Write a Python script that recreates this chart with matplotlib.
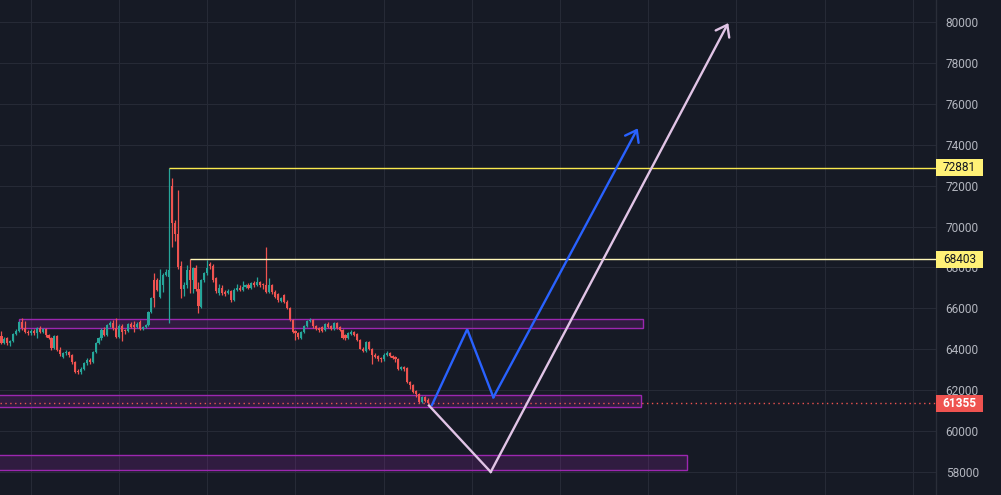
import matplotlib
matplotlib.use("Agg")
import matplotlib.pyplot as plt
from matplotlib.patches import Rectangle
import matplotlib.transforms as mtransforms

# ---------------- data ----------------
opens = [64650, 64300, 64550, 64300, 64400, 64750, 64900, 65350, 65050, 64850,
         64780, 64900, 64780, 65050, 64850, 64980, 64700, 64550, 64060, 64650,
         63960, 63620, 63800, 63860, 63700, 63380, 62950, 62880, 63050, 63330,
         63470, 63400, 63860, 64300, 64550, 64950, 64700, 65180, 65300, 65050,
         64600, 65150, 64950, 64900, 65250, 65200, 65100, 65350, 65000, 65100,
         65200, 65820, 67380, 67380, 66550, 67150, 67650, 67530, 71980, 70170,
         69630, 68050, 66950, 67150, 67870, 67380, 67970, 66950, 66060, 67380,
         67730, 68170, 68070, 67480, 66750, 67000, 66800, 66750, 66850, 66400,
         66900, 67000, 66900, 67050, 67150, 67000, 67250, 67150, 67280, 67200,
         67150, 66800, 67150, 66800, 66700, 66350, 66650, 66300, 66000, 65450,
         64900, 64800, 64550, 64850, 65150, 65380, 65450, 65150, 65050, 65100,
         64950, 65250, 65150, 65000, 65300, 65100, 64950, 64700, 64550, 64750,
         64850, 64750, 64450, 64000, 63900, 64350, 64000, 63720, 63650, 63560,
         63500, 63720, 63800, 63650, 63600, 63500, 63050, 63150, 63100, 62400,
         62250, 61950, 61800, 61400, 61650, 61500]
closes = [64300, 64500, 64300, 64400, 64750, 64900, 65350, 65050, 64850, 64780,
          64900, 64780, 65050, 64850, 64980, 64700, 64550, 64060, 64650, 63960,
          63760, 63800, 63860, 63700, 63380, 62900, 62880, 63050, 63330, 63470,
          63400, 63860, 64300, 64550, 64950, 64700, 65180, 65300, 65050, 64600,
          65150, 64850, 64900, 65250, 65100, 65100, 65250, 65000, 65100, 65200,
          65800, 66500, 66500, 66900, 67380, 67650, 67800, 67870, 70170, 69630,
          68000, 66950, 67150, 67870, 67380, 67970, 66950, 66110, 67380, 67730,
          67970, 68070, 67380, 66850, 67000, 66750, 66700, 66850, 66400, 66900,
          67000, 66900, 67050, 67150, 67000, 67250, 67150, 67280, 67150, 67150,
          66800, 67150, 66800, 66550, 66400, 66500, 66300, 66000, 65450, 64850,
          64800, 64600, 64850, 65150, 65400, 65450, 65150, 65000, 64950, 64900,
          65250, 65100, 65000, 65300, 65050, 64950, 64550, 64550, 64800, 64850,
          64700, 64450, 64000, 63900, 64350, 64000, 63720, 63600, 63520, 63500,
          63720, 63800, 63650, 63550, 63500, 63050, 63150, 63050, 62400, 62250,
          61900, 61800, 61400, 61650, 61450, 61355]
highs = [64890, 64600, 64620, 64450, 64800, 65000, 65400, 65550, 65380, 64950,
         65000, 64980, 65100, 65150, 65050, 65050, 64750, 64620, 64700, 64700,
         64100, 63860, 63950, 63900, 63760, 63450, 63050, 63150, 63380, 63550,
         63550, 63900, 64350, 64600, 65050, 65100, 65250, 65400, 65450, 65550,
         65250, 65250, 65000, 65300, 65320, 65400, 65350, 65450, 65150, 65250,
         65850, 66550, 67720, 67500, 67920, 67750, 67900, 72881, 72370, 70300,
         71780, 68300, 67300, 68100, 68403, 68000, 68100, 67300, 67450, 67800,
         68360, 68250, 68150, 67550, 67200, 67150, 66900, 66950, 66900, 67000,
         67200, 67150, 67350, 67200, 67250, 67300, 67350, 67550, 67350, 67250,
         69000, 67500, 67200, 66900, 66750, 66550, 66700, 66400, 66050, 65500,
         64950, 64850, 64900, 65200, 65450, 65550, 65500, 65200, 65100, 65150,
         65300, 65350, 65200, 65350, 65350, 65150, 65000, 64750, 64850, 64950,
         64900, 64800, 64500, 64100, 64400, 64400, 64050, 63800, 63700, 63600,
         63800, 63900, 63850, 63700, 63650, 63550, 63200, 63200, 63150, 62450,
         62300, 62000, 61850, 61700, 61700, 61600]
lows = [64250, 64250, 64200, 64150, 64350, 64700, 64850, 64950, 64800, 64700,
        64700, 64700, 64550, 64780, 64800, 64620, 64480, 63980, 64000, 63900,
        63650, 63560, 63700, 63600, 63300, 62850, 62780, 62800, 63000, 63250,
        63300, 63350, 63800, 64250, 64450, 64650, 64650, 65100, 64950, 64550,
        64550, 64400, 64750, 64850, 65050, 64850, 65050, 64950, 64950, 65050,
        65150, 65750, 66060, 66850, 66500, 66800, 67600, 65300, 69000, 69300,
        67900, 66500, 66600, 67000, 66750, 66750, 66850, 65770, 66000, 67300,
        67650, 67900, 67300, 66750, 66650, 66650, 66600, 66700, 66300, 66350,
        66850, 66850, 66850, 67000, 66950, 66950, 67050, 67100, 67050, 66950,
        66750, 66750, 66700, 66500, 66300, 66300, 66250, 65950, 65400, 64800,
        64450, 64500, 64500, 64800, 65100, 65350, 65050, 64950, 64850, 64850,
        64900, 65050, 64950, 64950, 65000, 64900, 64500, 64450, 64500, 64700,
        64650, 64400, 64000, 63850, 63850, 63950, 63300, 63550, 63450, 63400,
        63450, 63650, 63600, 63500, 63400, 63000, 63000, 62950, 62350, 62050,
        61850, 61650, 61350, 61350, 61400, 61300]

level_prices = [72881, 68403]
level_start_idx = [57, 64]
level_colors = ["#f9e94e", "#fff7b8"]

zone_tops = [65500, 61745, 58810]
zone_bottoms = [65050, 61160, 58075]
zone_start_idx = [6.0, -3.0, -3.0]
zone_end_idx = [218.2, 217.4, 233.2]

blue_idx = [146.4, 158.4, 167.3, 216.4]
blue_px = [61270, 64976, 61650, 74803]
pink_idx = [145.4, 166.4, 247.2]
pink_px = [61250, 58000, 79950]

last_price = 61355
price_ticks = list(range(58000, 80001, 2000))
time_grid_idx = list(range(10, 320, 30))

# ---------------- style ----------------
BG = "#161a25"
GRID = "#262a36"
UP = "#26a69a"
DN = "#ef5350"
TXT = "#b2b5be"

W, H = 1001, 495
fig = plt.figure(figsize=(W / 100, H / 100), dpi=100, facecolor=BG)
ax = fig.add_axes([0, 0, 936 / W, 1])
ax.set_facecolor(BG)

step = 2.94
x_lo = -1.5 / step
x_hi = (936 - 1.5) / step
ax.set_xlim(x_lo, x_hi)
ax.set_ylim(56875, 81076)

# grid
for p in price_ticks:
    ax.axhline(p, color=GRID, lw=0.8, zorder=0)
for g in time_grid_idx:
    ax.axvline(g, color=GRID, lw=0.8, zorder=0)

# zones
for top, bot, s, e in zip(zone_tops, zone_bottoms, zone_start_idx, zone_end_idx):
    ax.add_patch(Rectangle((s, bot), e - s, top - bot, facecolor="#9c27b0",
                           alpha=0.2, edgecolor="none", zorder=1))
    ax.add_patch(Rectangle((s, bot), e - s, top - bot, facecolor="none",
                           edgecolor="#9c27b0", lw=1.0, zorder=1.1))

# candles
n = len(closes)
idx = list(range(n))
cols = [UP if c >= o else DN for o, c in zip(opens, closes)]
ax.vlines(idx, lows, highs, colors=cols, lw=0.9, zorder=3)
bottoms = [min(o, c) for o, c in zip(opens, closes)]
heights = [max(abs(c - o), 45) for o, c in zip(opens, closes)]
ax.bar(idx, heights, bottom=bottoms, width=0.72, color=cols, lw=0, zorder=3)

# horizontal levels
trans = mtransforms.blended_transform_factory(ax.transAxes, ax.transData)
for p, s, c in zip(level_prices, level_start_idx, level_colors):
    ax.plot([s, x_hi], [p, p], color=c, lw=1.0, zorder=4, solid_capstyle="butt")

# last price dotted line
ax.axhline(last_price, color=DN, lw=1.0, linestyle=(0, (1, 2.5)), zorder=2)

# projection paths
ax.plot(blue_idx[:-1], blue_px[:-1], color="#2962ff", lw=1.7, zorder=5,
        solid_joinstyle="miter")
ax.annotate("", xy=(blue_idx[-1], blue_px[-1]), xytext=(blue_idx[-2], blue_px[-2]),
            arrowprops=dict(arrowstyle="->,head_length=7.5,head_width=5.5",
                            mutation_scale=1, color="#2962ff", lw=1.7,
                            shrinkA=0, shrinkB=0), zorder=5)
ax.plot(pink_idx[:-1], pink_px[:-1], color="#e1c4e6", lw=1.7, zorder=5,
        solid_joinstyle="miter")
ax.annotate("", xy=(pink_idx[-1], pink_px[-1]), xytext=(pink_idx[-2], pink_px[-2]),
            arrowprops=dict(arrowstyle="->,head_length=7.5,head_width=5.5",
                            mutation_scale=1, color="#e1c4e6", lw=1.7,
                            shrinkA=0, shrinkB=0), zorder=5)

# axes / price scale
for sp in ["top", "left", "bottom"]:
    ax.spines[sp].set_visible(False)
ax.spines["right"].set_color("#2a2e39")
ax.spines["right"].set_linewidth(1.0)
ax.set_xticks([])
ax.yaxis.tick_right()
ax.set_yticks(price_ticks)
ax.set_yticklabels([str(p) for p in price_ticks])
ax.tick_params(axis="y", length=0, pad=7, labelsize=8.6, labelcolor=TXT)
for lab in ax.get_yticklabels():
    lab.set_fontfamily("Roboto")

# price labels on scale
box_w = 47 / 936
px_per_unit = H / (81076 - 56875)
box_h = 17 / px_per_unit
label_specs = [(level_prices[0], "#fff176", "#131722", "normal"),
               (level_prices[1], "#fff176", "#131722", "normal"),
               (last_price, "#ef5350", "#ffffff", "bold")]
for p, bg, fg, wt in label_specs:
    ax.add_patch(Rectangle((1.0, p - box_h / 2), box_w, box_h, transform=trans,
                           facecolor=bg, edgecolor="none", clip_on=False, zorder=10))
    ax.text(1.0 + box_w / 2, p, str(p), transform=trans, ha="center", va="center",
            fontsize=8.6, color=fg, fontweight=wt, family="Roboto",
            clip_on=False, zorder=11)

fig.savefig("out.png", dpi=100, facecolor=BG)
